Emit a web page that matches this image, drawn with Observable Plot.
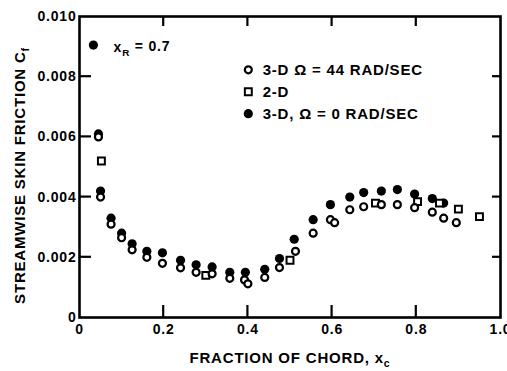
<!DOCTYPE html>
<html><head><meta charset="utf-8">
<script src="https://cdn.jsdelivr.net/npm/d3@7"></script>
<script src="https://cdn.jsdelivr.net/npm/@observablehq/plot@0.6"></script>
<style>body{margin:0;background:#fff}</style>
</head><body><div id="chart"></div>
<script>
// 3-D, Omega = 44 rad/sec (open circles)
const openX = [0.045,0.05,0.075,0.1,0.125,0.16,0.197,0.24,0.277,0.315,0.357,0.392,0.40,0.44,0.475,0.513,0.555,0.596,0.606,0.642,0.675,0.717,0.755,0.796,0.838,0.865,0.895];
const openY = [0.0060,0.0040,0.0031,0.00265,0.00225,0.0020,0.0018,0.00165,0.0015,0.00145,0.0013,0.00125,0.00112,0.00133,0.00166,0.0022,0.0028,0.00325,0.00315,0.00358,0.00368,0.00375,0.00375,0.00365,0.0035,0.0033,0.00315];
// 2-D (open squares)
const squareX = [0.052,0.30,0.50,0.703,0.803,0.855,0.90,0.95];
const squareY = [0.0052,0.0014,0.0019,0.0038,0.00385,0.0038,0.0036,0.00335];
// 3-D, Omega = 0 rad/sec (filled circles)
const filledX = [0.033,0.045,0.05,0.075,0.1,0.125,0.16,0.197,0.24,0.277,0.315,0.357,0.394,0.44,0.475,0.51,0.555,0.596,0.642,0.675,0.717,0.755,0.796,0.838,0.865];
const filledY = [0.00905,0.0061,0.0042,0.0033,0.0028,0.00245,0.0022,0.00215,0.0019,0.00175,0.00168,0.0015,0.0015,0.0016,0.00196,0.0026,0.00325,0.00375,0.0040,0.00415,0.0042,0.00425,0.0041,0.00395,0.0038];

const xTicks = [0,0.2,0.4,0.6,0.8,1.0];
const xTickLabels = ["0","0.2","0.4","0.6","0.8","1.0"];
const yTicks = [0,0.002,0.004,0.006,0.008,0.010];
const yTickLabels = ["0","0.002","0.004","0.006","0.008","0.010"];

const legendLabels = ["3-D Ω = 44 RAD/SEC","2-D","3-D, Ω = 0 RAD/SEC"];
const legendSymbols = ["open","square","filled"];
const legendX = [0.401,0.401,0.401];
const legendTextX = [0.435,0.435,0.435];
const legendY = [0.00823,0.00750,0.00677];

const annoText = ["x_R = 0.7"];
const annoX = [0.081];
const annoY = [0.00896];

const xTitle = "FRACTION OF CHORD, x_c";
const yTitle = "STREAMWISE SKIN FRICTION C_f";

const toPts = (xs, ys) => xs.map((x,i)=>({x, y: ys[i]}));
const openPts = toPts(openX, openY);
const squarePts = toPts(squareX, squareY);
const filledPts = toPts(filledX, filledY);
const legend = legendLabels.map((l,i)=>({label:l, sym:legendSymbols[i], x:legendX[i], tx:legendTextX[i], y:legendY[i]}));
const innerX = [0.2,0.4,0.6,0.8];
const innerY = [0.002,0.004,0.006,0.008];

const W = 507, H = 371, ML = 79, MR = 7, MT = 16, MB = 54;

const chart = Plot.plot({
  width: W, height: H,
  marginLeft: ML, marginRight: MR, marginTop: MT, marginBottom: MB,
  style: {fontFamily: "'Liberation Sans', Arial, sans-serif", fontWeight: "bold", fontSize: "14px", color: "#000", background: "#fff", letterSpacing: "0.8px", overflow: "visible"},
  x: {domain: [0, 1]},
  y: {domain: [0, 0.010]},
  marks: [
    Plot.axisX({anchor: "bottom", ticks: xTicks, tickSize: 0, tickPadding: 7, tickFormat: (d) => xTickLabels[xTicks.indexOf(d)], label: null, fontSize: 14, fontWeight: "bold"}),
    Plot.axisY({anchor: "left", ticks: yTicks, tickSize: 0, tickPadding: 3, tickFormat: (d) => yTickLabels[yTicks.indexOf(d)], label: null, fontSize: 14, fontWeight: "bold"}),
    Plot.dot(filledPts, {x: "x", y: "y", r: 4.6, fill: "#000", stroke: "none"}),
    Plot.dot(squarePts, {x: "x", y: "y", symbol: "square", r: 3.9, fill: "#fff", stroke: "#000", strokeWidth: 2}),
    Plot.dot(openPts, {x: "x", y: "y", r: 3.5, fill: "#fff", stroke: "#000", strokeWidth: 2.2}),
    Plot.dot(legend.filter(d=>d.sym==="open"), {x: "x", y: "y", r: 3.5, fill: "#fff", stroke: "#000", strokeWidth: 2.2}),
    Plot.dot(legend.filter(d=>d.sym==="square"), {x: "x", y: "y", symbol: "square", r: 3.9, fill: "#fff", stroke: "#000", strokeWidth: 2}),
    Plot.dot(legend.filter(d=>d.sym==="filled"), {x: "x", y: "y", r: 4.6, fill: "#000"}),
    Plot.text(legend, {x: "tx", y: "y", text: "label", textAnchor: "start", fontSize: 15, fontWeight: "bold"}),
    Plot.text(annoText, {x: (d,i)=>annoX[i], y: (d,i)=>annoY[i], text: d=>d, textAnchor: "start", fontSize: 14, fontWeight: "bold"}),
    Plot.text([xTitle], {text: d=>d, frameAnchor: "bottom", textAnchor: "middle", lineAnchor: "middle", dy: 41, fontSize: 15, fontWeight: "bold"}),
    Plot.text([yTitle], {text: d=>d, frameAnchor: "left", textAnchor: "middle", lineAnchor: "middle", rotate: -90, dx: -59, dy: 8.5, fontSize: 15, fontWeight: "bold"}),
    Plot.frame({stroke: "#000", strokeWidth: 2.6})
  ]
});
document.getElementById("chart").append(chart);

// inward ticks, positioned with the plot's own scales
const sx = chart.scale("x"), sy = chart.scale("y");
const fx = d3.scaleLinear(sx.domain, sx.range);
const fy = d3.scaleLinear(sy.domain, sy.range);
const [x0, x1] = sx.range, [yb, yt] = sy.range;
const g = d3.select(chart).append("g").attr("stroke", "#000").attr("stroke-width", 2.2);
innerX.forEach(v => {
  g.append("line").attr("x1", fx(v)).attr("x2", fx(v)).attr("y1", yb).attr("y2", yb - 12);
  g.append("line").attr("x1", fx(v)).attr("x2", fx(v)).attr("y1", yt).attr("y2", yt + 10);
});
innerY.forEach(v => {
  g.append("line").attr("y1", fy(v)).attr("y2", fy(v)).attr("x1", x0).attr("x2", x0 + 12);
  g.append("line").attr("y1", fy(v)).attr("y2", fy(v)).attr("x1", x1).attr("x2", x1 - 8);
});

// subscripts
d3.select(chart).selectAll("text").each(function(){
  const t = this.textContent;
  const m = t.match(/^(.*)_(\w)(.*)$/);
  if (!m || this.querySelector("tspan")) return;
  const sel = d3.select(this);
  sel.text(null);
  sel.append("tspan").text(m[1]);
  sel.append("tspan").attr("dy", "0.35em").attr("font-size", "0.7em").text(m[2]);
  if (m[3]) sel.append("tspan").attr("dy", "-0.35em").text(m[3]);
});
</script>
</body></html>
